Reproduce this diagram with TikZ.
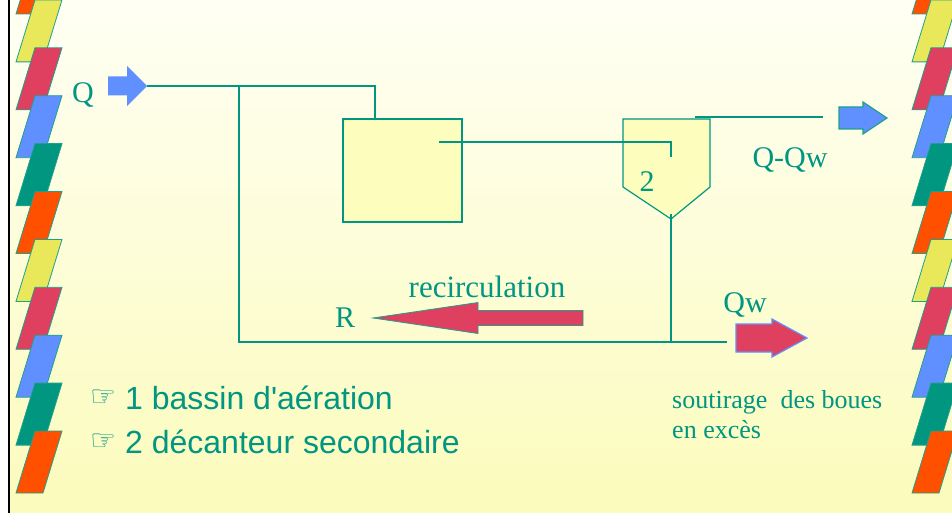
\documentclass[tikz,border=0pt]{standalone}
\usepackage{fontspec}
\setmainfont{Liberation Serif}
\setsansfont{Liberation Sans}
\newfontfamily\symbfont{DejaVu Sans}
\usetikzlibrary{positioning, calc}
\definecolor{FlowTeal}{RGB}{0, 150, 130}
\definecolor{SlabEdge}{RGB}{30, 160, 140}
\definecolor{SlabYellow}{RGB}{232, 232, 90}
\definecolor{SlabRed}{RGB}{224, 64, 96}
\definecolor{SlabBlue}{RGB}{96, 144, 255}
\definecolor{SlabTeal}{RGB}{0, 150, 128}
\definecolor{SlabOrange}{RGB}{255, 80, 0}
\definecolor{BgTop}{RGB}{255, 255, 244}
\definecolor{BgBottom}{RGB}{251, 251, 188}
\definecolor{TankYellow}{RGB}{253, 253, 190}

% one slanted strip piece: x shift, top y, colour
\newcommand{\slab}[3]{%
  \filldraw[fill=#3, draw=SlabEdge, line width=0.8]
    ({#1+35},{#2}) -- ({#1+62},{#2}) -- ({#1+43},{#2+62}) -- ({#1+16},{#2+62}) -- cycle;}
% fat arrow: tail x, head base x, tip x, y, shaft half, head half, style
\newcommand{\fatarrow}[7]{%
  \path[#7] (#1,{#4-#5}) -- (#2,{#4-#5}) -- (#2,{#4-#6}) -- (#3,#4)
    -- (#2,{#4+#6}) -- (#2,{#4+#5}) -- (#1,{#4+#5}) -- cycle;}

\begin{document}
\begin{tikzpicture}[x=1pt, y=-1pt,
    pipe/.style={FlowTeal, line width=2},
    lbl/.style={text=FlowTeal, inner sep=0, font=\fontsize{30}{36}\selectfont},
    note/.style={text=FlowTeal, inner sep=0, font=\fontsize{26}{30}\selectfont},
    item/.style={text=FlowTeal, inner sep=0, font=\sffamily\fontsize{32}{38}\selectfont},
    hand/.style={text=FlowTeal, inner sep=0, font=\symbfont\fontsize{29}{32}\selectfont},
    bassin/.style={draw=FlowTeal, fill=TankYellow, line width=1.2,
      minimum width=119, minimum height=103, inner sep=0}]
    \useasboundingbox (0,0) rectangle (952,513);
    \clip (0,0) rectangle (952,513);

    % Background
    \fill[white] (0,0) rectangle (9,513);
    \shade[top color=BgTop, bottom color=BgBottom] (9,0) rectangle (952,513);
    \draw[black, line width=2] (8.5,0) -- (8.5,513);

    % Side strips
    \foreach \c [count=\i from 0] in {SlabOrange,SlabYellow,SlabRed,SlabBlue,SlabTeal,
        SlabOrange,SlabYellow,SlabRed,SlabBlue,SlabTeal,SlabOrange} {
      \slab{0}{-48+47.9*\i}{\c}
      \slab{896}{-48+47.9*\i}{\c}
    }

    % Tanks
    \node[bassin] (bassin) at (402.5,170.5) {};
    \filldraw[fill=TankYellow, draw=FlowTeal, line width=1.2]
      (623,119) -- (710,119) -- (710,187) -- (671,219) -- (623,187) -- cycle;
    \node[lbl] (clarnum) at (647,182) {2};

    % Pipe points
    \coordinate (qtip) at (147,86);
    \coordinate (split) at (239,86);
    \coordinate (mixout) at (439,142);
    \coordinate (clarin) at (671,157);
    \coordinate (clarover) at (695,117);
    \coordinate (effluent) at (823,117);
    \coordinate (clarbot) at (671,214);
    \coordinate (clarjoin) at (671,342);
    \coordinate (recjoin) at (239,342);
    \coordinate (wasteend) at (727,342);

    % Pipes
    \draw[pipe] (qtip) -| ([xshift=-27.5]bassin.north);
    \draw[pipe] (split) -- (recjoin) -- (wasteend);
    \draw[pipe] (mixout) -| (clarin);
    \draw[pipe] (clarover) -- (effluent);
    \draw[pipe] (clarbot) -- (clarjoin);

    % Flow arrows
    \fatarrow{108}{127}{147}{86}{9.5}{20}{fill=SlabBlue}
    \fatarrow{839}{863}{887}{118}{11}{16}{fill=SlabBlue, draw=SlabEdge, line width=1.2}
    \fatarrow{583}{478}{373}{318}{7.5}{15.5}{fill=SlabRed, draw=SlabEdge, line width=0.8}
    \fatarrow{736}{772}{807}{338}{14}{19}{fill=SlabRed, draw=SlabBlue, line width=1.2}

    % Labels
    \node[lbl] (qlabel) at (83,95) {Q};
    \node[lbl] (outlabel) at (790,160) {Q-Qw};
    \node[lbl, font=\fontsize{31}{36}\selectfont] (reclabel) at (487,287) {recirculation};
    \node[lbl] (rlabel) at (345,318) {R};
    \node[lbl] (qwlabel) at (745,305) {Qw};
    \node[note, anchor=base west] (waste1) at (672,408) {soutirage\ \ des boues};
    \node[note, anchor=base west] (waste2) at (672,438) {en excès};

    % Legend
    \node[hand] (hand1) at (103,398) {☞};
    \node[item, anchor=base west] (item1) at (125,409) {1 bassin d\textquotesingle aération};
    \node[hand] (hand2) at (103,442) {☞};
    \node[item, anchor=base west] (item2) at (125,453) {2 décanteur secondaire};
  \end{tikzpicture}
\end{document}
